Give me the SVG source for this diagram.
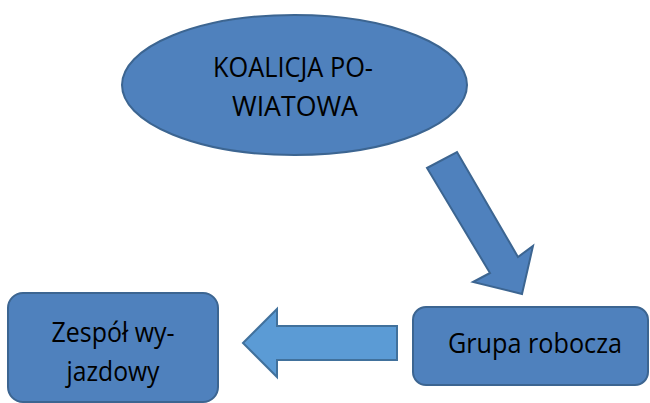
<svg xmlns="http://www.w3.org/2000/svg" width="650" height="403" viewBox="0 0 650 403">
<style>
.n{fill:#4F81BD;stroke:#3C6591;stroke-width:2}
.a1{fill:#4F81BD;stroke:#3C6591;stroke-width:2;stroke-linejoin:miter}
.a2{fill:#5B9BD5;stroke:#41719C;stroke-width:2;stroke-linejoin:miter}
.t{font-family:"Open Sans","Noto Sans",sans-serif;font-size:26.5px;fill:#000;text-anchor:middle}
</style>
<rect width="650" height="403" fill="#fff"/>
<g id="connectors">
<polygon class="a1" points="427,168 457,152 518,257 533,246 522,294 473,282 490,273"/>
<polygon class="a2" points="243,343 277,309 277,326 397,326 397,360 277,360 277,377"/>
</g>
<g id="koalicja">
<ellipse class="n" cx="294.5" cy="85" rx="172.5" ry="70"/>
<text class="t" x="293" y="77" textLength="160" lengthAdjust="spacingAndGlyphs">KOALICJA PO-</text>
<text class="t" x="295" y="116" textLength="126" lengthAdjust="spacingAndGlyphs">WIATOWA</text>
</g>
<g id="zespol">
<rect class="n" x="8" y="293" width="210" height="109" rx="15"/>
<text class="t" x="113" y="342" textLength="123" lengthAdjust="spacingAndGlyphs">Zespół wy-</text>
<text class="t" x="113" y="381" textLength="93" lengthAdjust="spacingAndGlyphs">jazdowy</text>
</g>
<g id="grupa">
<rect class="n" x="413" y="307" width="235" height="78" rx="13"/>
<text class="t" x="535" y="353" textLength="174" lengthAdjust="spacingAndGlyphs">Grupa robocza</text>
</g>
</svg>
